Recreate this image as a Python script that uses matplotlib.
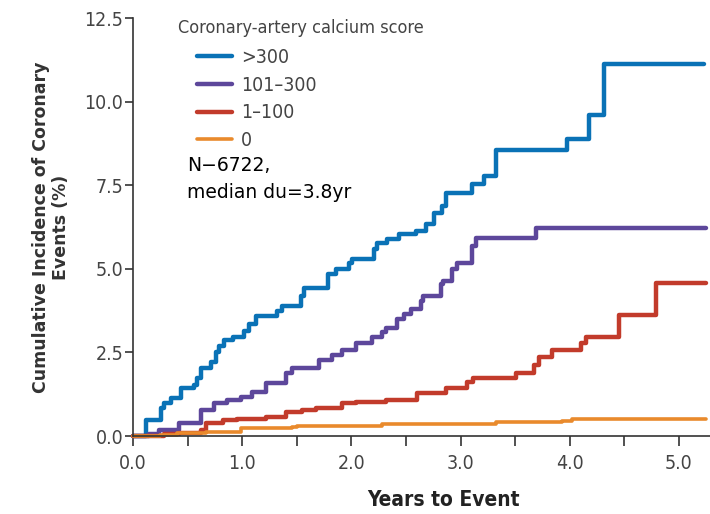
import matplotlib.pyplot as plt
from matplotlib.ticker import MultipleLocator, FormatStrFormatter
from matplotlib import font_manager

DPI = 100

# curve data (years, cumulative incidence %)
years_300 = [0, 0.12, 0.26, 0.28, 0.35, 0.44, 0.56, 0.59, 0.62, 0.71, 0.76, 0.79,
             0.83, 0.92, 1.02, 1.06, 1.13, 1.32, 1.36, 1.54, 1.57, 1.79, 1.86, 1.98,
             2.01, 2.21, 2.23, 2.33, 2.44, 2.59, 2.68, 2.76, 2.83, 2.87, 3.10, 3.21,
             3.32, 3.97, 4.18, 4.31, 5.23]
inc_300 = [0, 0.48, 0.83, 1.0, 1.13, 1.43, 1.52, 1.73, 2.02, 2.2, 2.5, 2.7,
           2.86, 2.95, 3.15, 3.36, 3.6, 3.75, 3.9, 4.2, 4.43, 4.85, 5.0, 5.18,
           5.3, 5.6, 5.77, 5.9, 6.04, 6.13, 6.33, 6.67, 6.88, 7.26, 7.53, 7.77,
           8.54, 8.87, 9.6, 11.13, 11.13]

years_101 = [0, 0.15, 0.24, 0.42, 0.62, 0.74, 0.86, 0.99, 1.09, 1.22, 1.40, 1.46,
             1.70, 1.82, 1.91, 2.04, 2.19, 2.28, 2.32, 2.42, 2.48, 2.55, 2.64, 2.66,
             2.82, 2.84, 2.92, 2.97, 3.10, 3.14, 3.69, 5.25]
inc_101 = [0, 0.05, 0.18, 0.39, 0.77, 0.98, 1.07, 1.16, 1.31, 1.58, 1.88, 2.02,
           2.26, 2.41, 2.56, 2.77, 2.95, 3.1, 3.24, 3.51, 3.66, 3.81, 4.05, 4.2,
           4.55, 4.64, 5.0, 5.18, 5.68, 5.92, 6.22, 6.22]

years_1 = [0, 0.28, 0.42, 0.62, 0.67, 0.82, 0.95, 1.22, 1.40, 1.55, 1.68, 1.91,
           2.04, 2.32, 2.60, 2.87, 3.06, 3.11, 3.51, 3.67, 3.72, 3.84, 4.10, 4.15,
           4.45, 4.79, 5.25]
inc_1 = [0, 0.06, 0.09, 0.18, 0.39, 0.48, 0.5, 0.57, 0.71, 0.77, 0.83, 0.98,
         1.01, 1.07, 1.28, 1.43, 1.61, 1.73, 1.88, 2.11, 2.35, 2.56, 2.77, 2.95,
         3.63, 4.58, 4.58]

years_0 = [0, 0.25, 0.40, 0.67, 0.99, 1.46, 1.50, 2.28, 3.32, 3.93, 4.02, 5.25]
inc_0 = [0, 0.03, 0.08, 0.12, 0.24, 0.27, 0.31, 0.36, 0.42, 0.46, 0.51, 0.51]

labels = ['>300', '101\u2013300', '1\u2013100', '0']
colors = ['#0a72b6', '#5d479b', '#c23b2b', '#e98a2c']

# narrow face for the tick labels / legend, like the journal's condensed font
names = {f.name for f in font_manager.fontManager.ttflist}
narrow = 'Liberation Sans Narrow' if 'Liberation Sans Narrow' in names else 'DejaVu Sans'
cond = dict(family=[narrow, 'DejaVu Sans'], stretch='condensed')

fig = plt.figure(dpi=DPI, figsize=(710 / DPI, 514 / DPI))
ax = fig.add_axes([133 / 710, 78 / 514, 577 / 710, 418 / 514])

series = [(years_300, inc_300), (years_101, inc_101), (years_1, inc_1), (years_0, inc_0)]
for (xs, ys), lab, col in zip(series, labels, colors):
    lw = 2.6 if lab == '0' else 3.2
    ax.plot(xs, ys, drawstyle='steps-post', color=col, lw=lw, label=lab,
            solid_capstyle='round', clip_on=False)

ax.set_xlim(0, 577 / 109.2)
ax.set_ylim(0, 12.5)
ax.xaxis.set_major_locator(MultipleLocator(1.0))
ax.xaxis.set_minor_locator(MultipleLocator(0.5))
ax.yaxis.set_major_locator(MultipleLocator(2.5))
ax.xaxis.set_major_formatter(FormatStrFormatter('%.1f'))
ax.yaxis.set_major_formatter(FormatStrFormatter('%.1f'))

for s in ['top', 'right']:
    ax.spines[s].set_visible(False)
for s in ['left', 'bottom']:
    ax.spines[s].set_color('#333333')
    ax.spines[s].set_linewidth(1.2)

ax.tick_params(which='both', direction='out', length=7, width=1.2, color='#333333',
               labelcolor='#444444', labelsize=14)
ax.tick_params(axis='x', pad=6)
ax.tick_params(axis='y', length=6, pad=1)
for t in ax.get_xticklabels() + ax.get_yticklabels():
    t.set_family(cond['family'])
    t.set_stretch('condensed')

ax.set_xlabel('Years to Event', fontsize=15, fontweight='bold', color='#222222', **cond)
ax.xaxis.set_label_coords((443 - 133) / 577, -(500 - 436) / 418)
ax.xaxis.label.set_va('center')
ax.set_ylabel('Cumulative Incidence of Coronary\nEvents (%)', fontsize=12.5,
              fontweight='bold', color='#333333', linespacing=1.15)
ax.yaxis.set_label_coords((51 - 133) / 577, 0.5)
ax.yaxis.label.set_va('center')

ax.text(178 / 710, 1 - 28 / 514, 'Coronary-artery calcium score', transform=fig.transFigure,
        fontsize=13, color='#444444', va='center', ha='left', **cond)

leg = ax.legend(loc='upper left', bbox_to_anchor=(197 / 710, 1 - 48 / 514),
                bbox_transform=fig.transFigure, frameon=False, fontsize=14,
                handlelength=1.8, handletextpad=0.45, labelspacing=0.45,
                borderpad=0, borderaxespad=0)
for t in leg.get_texts():
    t.set_family(cond['family'])
    t.set_stretch('condensed')
    t.set_color('#444444')

ax.text(187 / 710, 1 - 179 / 514, 'N\u22126722,\nmedian du=3.8yr', transform=fig.transFigure,
        fontsize=13.5, color='black', va='center', ha='left', linespacing=1.5)

fig.savefig('out.png', dpi=DPI)
